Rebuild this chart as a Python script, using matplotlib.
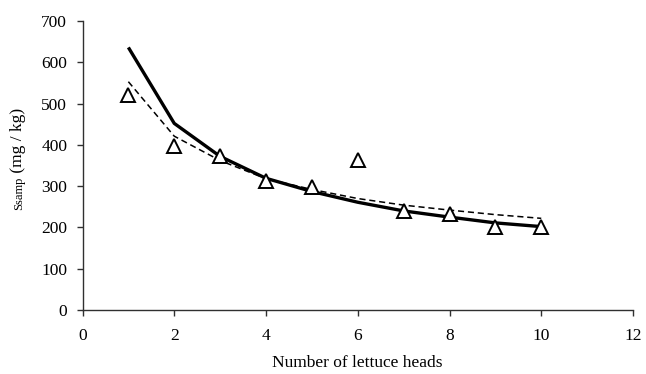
import matplotlib
matplotlib.use("Agg")
import matplotlib.pyplot as plt

heads = [1, 2, 3, 4, 5, 6, 7, 8, 9, 10]
observed = [520, 398, 372, 313, 298, 363, 240, 232, 202, 202]
solid_fit = [636, 452, 372, 319, 287, 261, 240, 225, 211, 202]
dashed_fit = [553, 421, 362, 318, 292, 270, 254, 242, 231, 222]

x_ticks = [0, 2, 4, 6, 8, 10, 12]
y_ticks = [0, 100, 200, 300, 400, 500, 600, 700]

plt.rcParams['font.family'] = ['Liberation Serif', 'DejaVu Serif']

W, H = 646, 374
fig = plt.figure(figsize=(W / 100, H / 100), dpi=100)
ax = fig.add_axes([82.5 / W, (H - 310) / H, (633 - 82.5) / W, (310 - 21) / H])

ax.plot(heads, solid_fit, color='black', lw=2.4, solid_capstyle='butt', zorder=2)
ax.plot(heads, dashed_fit, color='black', lw=1.1, dashes=(4, 2.5), zorder=2)
ax.plot(heads, observed, linestyle='none', marker='^', markersize=9.5,
        markerfacecolor='white', markeredgecolor='black', markeredgewidth=1.4, zorder=3)

ax.set_xlim(0, 12)
ax.set_ylim(0, 700)
ax.set_xticks(x_ticks)
ax.set_yticks(y_ticks)
ax.spines['top'].set_visible(False)
ax.spines['right'].set_visible(False)
for s in ('left', 'bottom'):
    ax.spines[s].set_linewidth(1.0)
    ax.spines[s].set_color('#303030')
ax.tick_params(direction='out', length=4, width=1.0, color='#303030', labelsize=12.5)
ax.tick_params(axis='x', pad=9)
ax.tick_params(axis='y', pad=7)

ax.set_xlabel('Number of lettuce heads', fontsize=12.5, labelpad=8)

# y label: small "Ssamp" followed by "(mg / kg)"
xb = 22 / W
yy = (H - 177) / H
fig.text(xb, yy, ' (mg / kg)', rotation=90, rotation_mode='anchor',
         ha='left', va='baseline', fontsize=12.5)
fig.text(xb, yy, 'Ssamp', rotation=90, rotation_mode='anchor',
         ha='right', va='baseline', fontsize=9)

fig.savefig('out.png', dpi=100)
